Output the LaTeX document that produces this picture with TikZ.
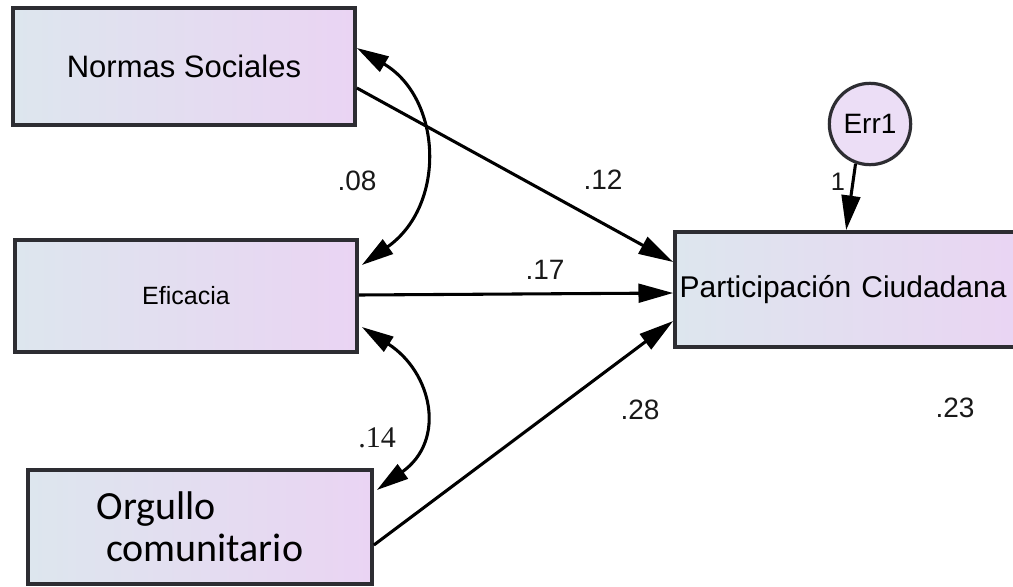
\documentclass[tikz,border=0pt]{standalone}
\usepackage{fontspec}
\setmainfont{Liberation Sans}
\newfontfamily\calib{Carlito}
\newfontfamily\tms{Liberation Serif}
\usetikzlibrary{arrows.meta,calc}
\definecolor{boxL}{RGB}{221,230,238}
\definecolor{boxR}{RGB}{234,212,243}
\definecolor{errF}{RGB}{236,222,246}
\definecolor{edge}{RGB}{45,45,50}
\begin{document}
\begin{tikzpicture}[x=0.75pt,y=-0.75pt,
  box/.style={draw=edge, line width=2.8pt, left color=boxL, right color=boxR, inner sep=0pt, text=black},
  conn/.style={line width=2.3pt, draw=black, -{Triangle[length=26pt,width=14pt]}},
  cov/.style={line width=2.3pt, draw=black, {Triangle[length=24pt,width=13pt]}-{Triangle[length=24pt,width=13pt]}},
  lab/.style={font=\fontsize{21}{24}\selectfont, text=black!90}]
\useasboundingbox (0,0) rectangle (1013,586);
\clip (0,0) rectangle (1013,586);
\fill[white] (0,0) rectangle (1013,586);

\node[box, minimum width=256.5pt, minimum height=87.75pt, font=\fontsize{23.25}{28}\selectfont] (ns) at (184,66.5) {Normas Sociales};
\node[box, minimum width=256.5pt, minimum height=84pt, font=\fontsize{18.75}{22}\selectfont] (ef) at (186,296) {Eficacia};
\node[box, minimum width=258pt, minimum height=85.5pt, font=\calib\fontsize{30}{31.5}\selectfont, align=left] (og) at (200,527) {Orgullo\\\hspace*{7pt}comunitario};
\node[box, minimum width=266.25pt, minimum height=86.25pt, inner xsep=3.5pt, text width=259.25pt, align=left, font=\fontsize{22.5}{28}\selectfont] (pc) at (852.5,289.5) {Participación Ciudadana};
\node[circle, draw=edge, line width=2.4pt, fill=errF, minimum size=61pt, inner sep=0pt, text=black, font=\fontsize{21}{24}\selectfont] (err) at (870,124) {Err1};

\draw[conn] ($(ns.east)+(0,21.5)$) -- ($(pc.west)+(0,-27.5)$);
\draw[conn] ($(ef.east)+(0,-1)$) -- ($(pc.west)+(0,3.5)$);
\draw[conn] ($(og.east)+(0,18)$) -- ($(pc.west)+(0,31.5)$);
\draw[conn] (err.-110) -- ($(pc.north west)+(173,0)$);

\draw[cov] ($(ns.east)+(0,-18.5)$) .. controls +(85,50) and +(85,-60) .. ($(ef.east)+(3,-31)$);
\draw[cov] ($(ef.east)+(3,31)$) .. controls +(70,45) and +(70,-50) .. ($(og.east)+(3,-37)$);

\node[lab] (l08) at (357,181) {.08};
\node[lab] (l12) at (603,180) {.12};
\node[lab] (l17) at (545,270) {.17};
\node[lab, font=\tms\fontsize{22.5}{24}\selectfont] (l14) at (377,438) {.14};
\node[lab] (l28) at (640,410) {.28};
\node[lab] (l23) at (955,408) {.23};
\node[lab, font=\fontsize{19}{22}\selectfont] (one) at (838,182) {1};
\end{tikzpicture}
\end{document}
